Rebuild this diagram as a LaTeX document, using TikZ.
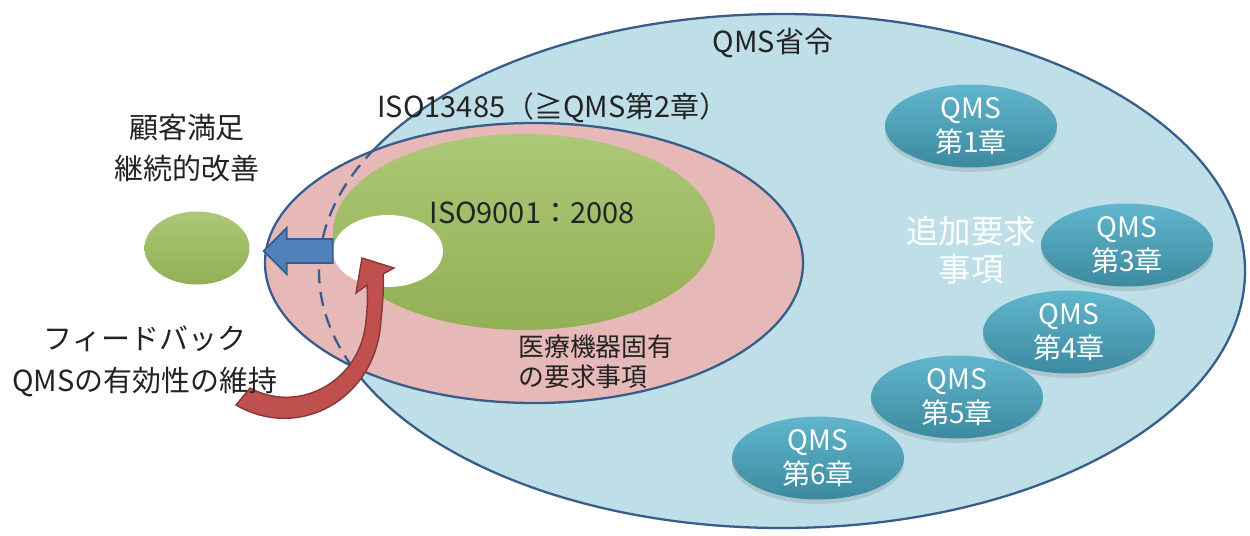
\documentclass[tikz,border=0pt]{standalone}
\usepackage{fontspec}
\setmainfont{Noto Sans CJK JP}
\usetikzlibrary{shapes.geometric,shadows}
\definecolor{qmsblue}{RGB}{190,222,232}
\definecolor{rimblue}{RGB}{56,93,138}
\definecolor{isopink}{RGB}{230,185,184}
\definecolor{isogreen}{RGB}{155,187,89}
\definecolor{chapblue}{RGB}{75,172,198}
\definecolor{fbred}{RGB}{192,80,77}
\definecolor{fbblue}{RGB}{79,129,189}
\definecolor{ink}{RGB}{35,35,35}

\begin{document}
\begin{tikzpicture}[x=.02cm, y=-.02cm,
  rim/.style={draw=rimblue, line width=1.3pt},
  lbl/.style={font=\fontsize{16.5}{23}\selectfont, text=ink, align=center, inner sep=0pt},
  blob/.style={ellipse, inner sep=0pt, top color=isogreen!82!white, bottom color=isogreen!94!black},
  chap/.style={ellipse, minimum width=3.44cm, minimum height=1.66cm, inner sep=0pt,
    top color=chapblue!88!white, bottom color=chapblue!80!black, text=white, align=center,
    font=\fontsize{16}{19.5}\selectfont,
    drop shadow={shadow xshift=0pt, shadow yshift=-2.5pt, opacity=.25}}
  ]
  \fill[white] (0,0) rectangle (1250,535);
  \filldraw[rim, fill=qmsblue] (782,271) ellipse [x radius=463, y radius=257];
  \filldraw[rim, fill=isopink] (534,263) ellipse [x radius=269, y radius=140];
  \begin{scope}
    \clip (534,263) ellipse [x radius=269, y radius=140];
    \draw[rimblue, line width=1.3pt, dash pattern=on 8pt off 5pt] (782,271) ellipse [x radius=463, y radius=257];
  \end{scope}
  \shade[top color=isogreen!82!white, bottom color=isogreen!94!black] (524,232) ellipse [x radius=191, y radius=98];
  \node[blob, minimum width=2.1cm, minimum height=1.46cm] (goal) at (197,248) {};
  \node[ellipse, fill=white, minimum width=2.2cm, minimum height=1.44cm, inner sep=0pt] (hole) at (388,251) {};
  \filldraw[draw=rimblue, fill=fbblue, line width=1pt] (hole.west) ++(0,-12) -- ++(-46,0) -- ++(0,-11)
    -- ++(-23,23) -- ++(23,23) -- ++(0,-11) -- ++(46,0) -- cycle;
  \filldraw[draw=fbred!70!black, fill=fbred, line width=.8pt] (236,405) .. controls (300,442) and (377,398) .. (381,320)
    .. controls (383,300) and (384,285) .. (383,274) -- (394,268) -- (362,258) -- (356,293) -- (367,285)
    .. controls (368,300) and (367,312) .. (366,320) .. controls (362,380) and (300,415) .. (250,388) -- cycle;

  \node[lbl] (qmsl) at (773,43) {QMS省令};
  \node[lbl] (isol) at (553,108) {ISO13485（≧QMS第2章）};
  \node[lbl] (custl) at (187,148) {顧客満足\\継続的改善};
  \node[lbl] (iso9l) at (532,213) {ISO9001：2008};
  \node[lbl, font=\fontsize{14.7}{17}\selectfont, align=left, anchor=west] (medl) at (518,362) {医療機器固有\\の要求事項};
  \node[lbl, font=\fontsize{16.5}{24}\selectfont] (fbl) at (145,361) {フィードバック\\QMSの有効性の維持};
  \node[lbl, text=white, font=\fontsize{18.5}{22}\selectfont] (addl) at (971,250) {追加要求\\事項};
  \foreach \n/\cx/\cy in {1/971/126, 3/1127/245, 4/1069/332, 5/957/397, 6/818/458}
    \node[chap] (ch\n) at (\cx,\cy) {QMS\\第{\n}章};
\end{tikzpicture}
\end{document}
